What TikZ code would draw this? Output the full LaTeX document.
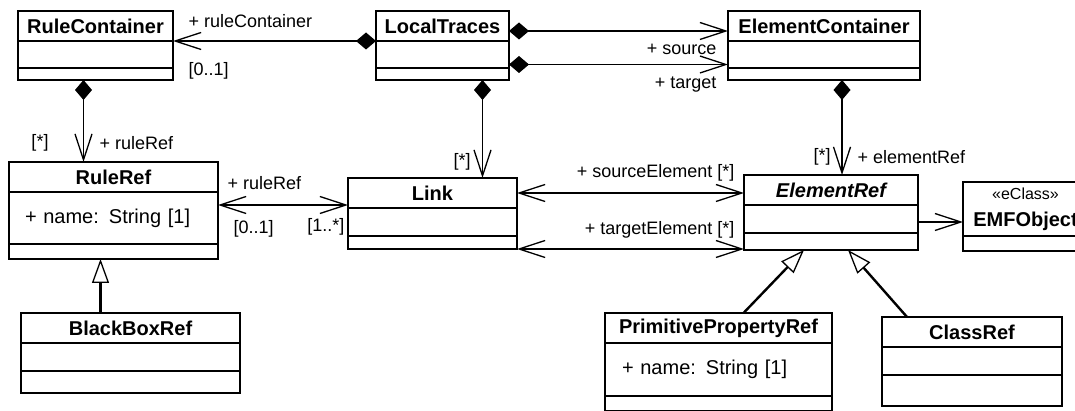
\documentclass[tikz,border=0pt]{standalone}
\usepackage{fontspec}
\setmainfont{Liberation Sans}
\usetikzlibrary{%
  arrows.meta,% barbs, diamonds, triangles
  positioning% wg. " of "
}

\begin{document}
\begin{tikzpicture}[
    x=1pt,y=-1pt,
    line width=1.3pt,
    node distance=0pt,
    head/.style={draw,outer sep=0pt,inner sep=0pt,minimum height=30pt,
        font=\bfseries\fontsize{20}{24}\selectfont},
    box/.style={draw,outer sep=0pt,inner sep=0pt},
    attr/.style={box,align=left,font=\fontsize{20}{24}\selectfont},
    lbl/.style={inner sep=0pt,font=\fontsize{18}{21}\selectfont},
    owns/.style={{Diamond[length=20pt,width=17pt]}-{Straight Barb[length=26pt,width=17pt]}},
    nav/.style={-{Straight Barb[length=26pt,width=17pt]}},
    bothnav/.style={{Straight Barb[length=26pt,width=17pt]}-{Straight Barb[length=26pt,width=17pt]}},
    inherits/.style={line width=2.4pt,
        -{Triangle[open,fill=white,length=24pt,width=17pt,line width=1.3pt]}}
  ]
    \useasboundingbox (0,0) rectangle (1075,411);
    \clip (0,0) rectangle (1075,411);

    % containers
    \node[head,minimum width=155pt,anchor=north west] (rc) at (18,11) {RuleContainer};
    \node[box,minimum width=155pt,minimum height=27pt,below=of rc] (rc-a) {};
    \node[box,minimum width=155pt,minimum height=12pt,below=of rc-a] (rc-o) {};

    \node[head,minimum width=133pt,anchor=north west] (lt) at (376,11) {LocalTraces};
    \node[box,minimum width=133pt,minimum height=27pt,below=of lt] (lt-a) {};
    \node[box,minimum width=133pt,minimum height=12pt,below=of lt-a] (lt-o) {};

    \node[head,minimum width=192pt,anchor=north west] (ec) at (728,11) {ElementContainer};
    \node[box,minimum width=192pt,minimum height=27pt,below=of ec] (ec-a) {};
    \node[box,minimum width=192pt,minimum height=12pt,below=of ec-a] (ec-o) {};

    % middle row
    \node[head,minimum width=209pt,anchor=north west] (rr) at (9,162) {RuleRef};
    \node[attr,minimum width=209pt,minimum height=52pt,text width=177pt,below=of rr] (rr-a) {+ name: String [1]};
    \node[box,minimum width=209pt,minimum height=15pt,below=of rr-a] (rr-o) {};

    \node[head,minimum width=169pt,anchor=north west] (lk) at (348,178) {Link};
    \node[box,minimum width=169pt,minimum height=28pt,below=of lk] (lk-a) {};
    \node[box,minimum width=169pt,minimum height=13pt,below=of lk-a] (lk-o) {};

    \node[head,minimum width=174pt,anchor=north west,
        font=\bfseries\itshape\fontsize{20}{24}\selectfont] (er) at (744,175) {ElementRef};
    \node[box,minimum width=174pt,minimum height=28pt,below=of er] (er-a) {};
    \node[box,minimum width=174pt,minimum height=17pt,below=of er-a] (er-o) {};

    \node[head,minimum width=125pt,minimum height=54pt,align=center,anchor=north west,
        font=\bfseries\fontsize{20}{27}\selectfont] (emf) at (963,182)
        {{\mdseries\fontsize{16}{27}\selectfont «eClass»}\\EMFObject};
    \node[box,minimum width=125pt,minimum height=15pt,below=of emf] (emf-o) {};

    % subclasses
    \node[head,minimum width=219pt,anchor=north west] (bb) at (21,313) {BlackBoxRef};
    \node[box,minimum width=219pt,minimum height=28pt,below=of bb] (bb-a) {};
    \node[box,minimum width=219pt,minimum height=22pt,below=of bb-a] (bb-o) {};

    \node[head,minimum width=227pt,anchor=north west] (pp) at (605,313) {PrimitivePropertyRef};
    \node[attr,minimum width=227pt,minimum height=53pt,text width=193pt,below=of pp] (pp-a) {+ name: String [1]};
    \node[box,minimum width=227pt,minimum height=15pt,below=of pp-a] (pp-o) {};

    \node[head,minimum width=180pt,anchor=north west] (cr) at (882,317) {ClassRef};
    \node[box,minimum width=180pt,minimum height=28pt,below=of cr] (cr-a) {};
    \node[box,minimum width=180pt,minimum height=31pt,below=of cr-a] (cr-o) {};

    % compositions
    \draw[owns] (lt.south west) -- (rc.south east);
    \draw[owns] ([yshift=-5pt]lt.east) -- ([yshift=-5pt]lt.east -| ec.west);
    \draw[owns] ([yshift=-10pt]lt-a.east) -- ([yshift=-10pt]lt-a.east -| ec.west);
    \draw[owns] ([xshift=-12pt]rc-o.south) -- ([xshift=-12pt]rc-o.south |- rr.north);
    \draw[owns] ([xshift=40pt]lt-o.south) -- ([xshift=40pt]lt-o.south |- lk.north);
    \draw[owns] ([xshift=18pt]ec-o.south) -- ([xshift=18pt]ec-o.south |- er.north);

    % associations
    \coordinate (lk-in) at ([yshift=3pt]lk.south west);
    \draw[bothnav] (lk-in -| rr-a.east) -- (lk-in);
    \draw[bothnav] (lk.east) -- (lk.east -| er.west);
    \draw[bothnav] (lk-o.south east) -- (lk-o.south east -| er-o.west);
    \draw[nav] ([yshift=-3pt]er-a.east) -- ([yshift=-3pt]er-a.east -| emf.west);

    % generalizations
    \draw[inherits] ([xshift=-30pt]bb.north) -- ([xshift=-30pt]bb.north |- rr-o.south);
    \draw[inherits] ([xshift=25pt]pp.north) -- ([xshift=-27pt]er-o.south);
    \draw[inherits] ([xshift=-65pt]cr.north) -- ([xshift=17pt]er-o.south);

    % role names and multiplicities
    \node[lbl,anchor=west] (l-rc) at (188,21) {+ ruleContainer};
    \node[lbl,anchor=west] (m-rc) at (188,71) {[0..1]};
    \node[lbl,anchor=east] (l-src) at (717,49) {+ source};
    \node[lbl,anchor=east] (l-tgt) at (717,85) {+ target};
    \node[lbl] (m-rr) at (40,143) {[*]};
    \node[lbl,anchor=west] (l-rr) at (99,143) {+ ruleRef};
    \node[lbl] (m-lk) at (462,162) {[*]};
    \node[lbl] (m-er) at (822,157) {[*]};
    \node[lbl,anchor=west] (l-er) at (857,157) {+ elementRef};
    \node[lbl,anchor=west] (l-lkrr) at (227,183) {+ ruleRef};
    \node[lbl,anchor=west] (m-lkrr) at (233,229) {[0..1]};
    \node[lbl,anchor=east] (m-rrlk) at (345,227) {[1..*]};
    \node[lbl,anchor=east] (l-se) at (735,173) {+ sourceElement [*]};
    \node[lbl,anchor=east] (l-te) at (735,230) {+ targetElement [*]};
\end{tikzpicture}
\end{document}
